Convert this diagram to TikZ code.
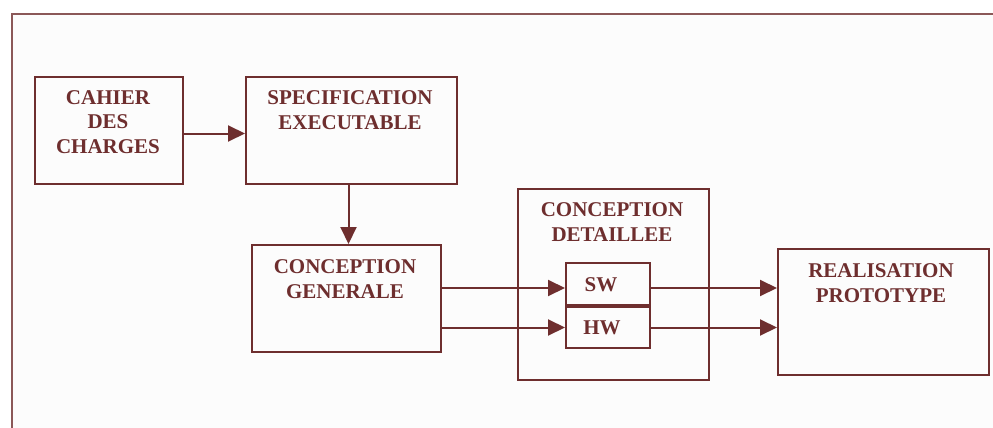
\documentclass[tikz,border=0pt]{standalone}
\usepackage{fontspec}
\setmainfont{Liberation Serif}
\usetikzlibrary{arrows.meta}
\definecolor{maroon}{HTML}{6E2E2E}
\definecolor{paper}{HTML}{FCFCFC}
\begin{document}
\begin{tikzpicture}[x=1pt,y=-1pt,
  box/.style={draw=maroon,line width=2pt,inner sep=0pt,anchor=north west},
  lbl/.style={text=maroon,font=\fontsize{21}{24.5}\selectfont\bfseries,align=center,inner sep=0pt},
  flow/.style={draw=maroon,line width=2pt,-{Triangle[length=17pt,width=16pt]}}]
  \useasboundingbox (0,0) rectangle (993,428);
  % sheet with its open frame
  \fill[white] (0,0) rectangle (993,428);
  \fill[paper] (12,14) rectangle (993,428);
  \draw[maroon!80,line width=2pt] (12,428) -- (12,14) -- (993,14);

  % boxes
  \node[box,minimum width=148pt,minimum height=107pt] (cahier) at (34,76) {};
  \node[box,minimum width=211pt,minimum height=107pt] (spec) at (245,76) {};
  \node[box,minimum width=189pt,minimum height=107pt] (gen) at (251,244) {};
  \node[box,minimum width=191pt,minimum height=191pt] (det) at (517,188) {};
  \node[box,minimum width=84pt,minimum height=42pt] (sw) at (565,262) {};
  \node[box,minimum width=84pt,minimum height=41pt] (hw) at (565,306) {};
  \node[box,minimum width=211pt,minimum height=126pt] (real) at (777,248) {};

  % labels
  \node[lbl] (tcahier) at (108,122) {CAHIER\\DES\\CHARGES};
  \node[lbl] (tspec) at (350,110) {SPECIFICATION\\EXECUTABLE};
  \node[lbl] (tgen) at (345,279) {CONCEPTION\\GENERALE};
  \node[lbl] (tdet) at (612,222) {CONCEPTION\\DETAILLEE};
  \node[lbl] (tsw) at (601,285) {SW};
  \node[lbl] (thw) at (602,328) {HW};
  \node[lbl] (treal) at (881,283) {REALISATION\\PROTOTYPE};

  % connectors
  \draw[flow] ([yshift=-3pt]cahier.east) -- ([yshift=-3pt]cahier.east -| spec.west);
  \draw[flow] ([xshift=-3pt]spec.south) -- ([xshift=-3pt]spec.south |- gen.north);
  \draw[flow] ([yshift=-4pt]sw.west -| gen.east) -- ([yshift=-4pt]sw.west);
  \draw[flow] (hw.west -| gen.east) -- (hw.west);
  \draw[flow] ([yshift=-4pt]sw.east) -- ([yshift=-4pt]sw.east -| real.west);
  \draw[flow] (hw.east) -- (hw.east -| real.west);
\end{tikzpicture}
\end{document}
